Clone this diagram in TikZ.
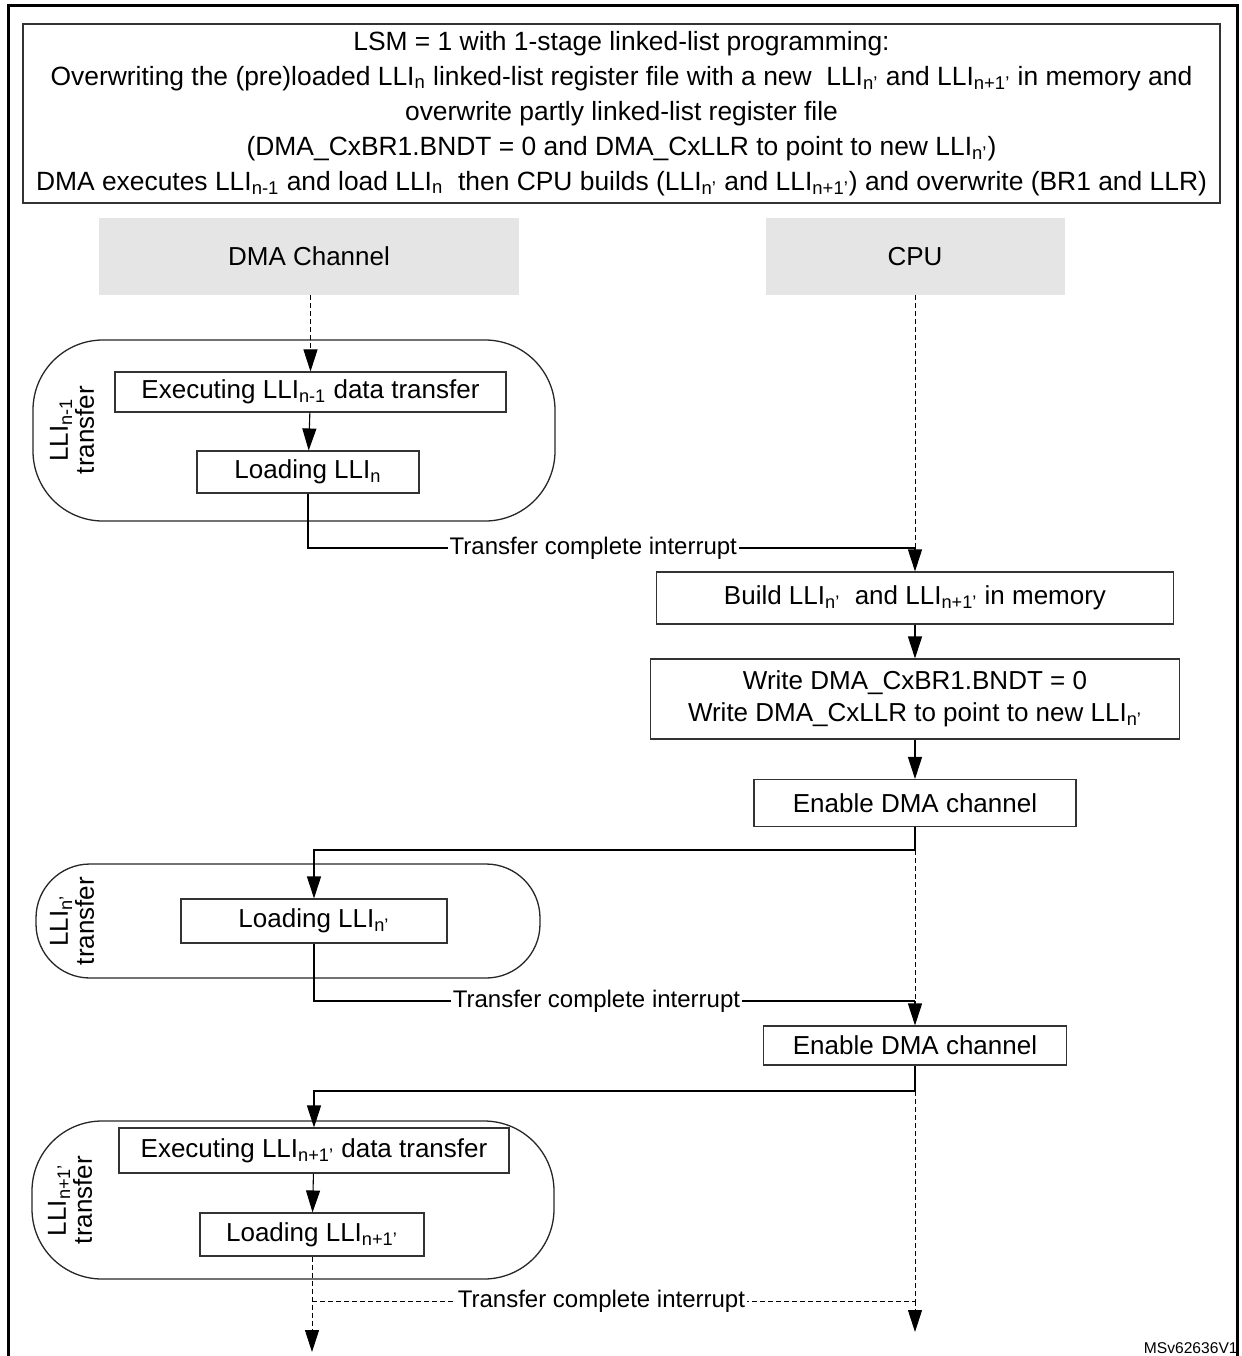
\documentclass[tikz,border=0pt]{standalone}
\usepackage{fontspec}
\setmainfont{Liberation Sans}
\usetikzlibrary{arrows.meta}
\newcommand{\lli}[1]{LLI\textsubscript{#1}}
\begin{document}
\begin{tikzpicture}[x=0.5pt,y=-0.5pt,
  box/.style={draw=black!80,line width=0.55pt,inner sep=0pt,align=center,font=\fontsize{13}{16}\selectfont},
  lane/.style={fill=black!10,inner sep=0pt,font=\fontsize{13}{16}\selectfont},
  group/.style={draw=black!85,line width=0.65pt,inner sep=0pt},
  tag/.style={rotate=90,align=center,inner sep=0pt,font=\fontsize{13}{13}\selectfont},
  lbl/.style={fill=white,inner sep=1pt,font=\fontsize{12}{14}\selectfont},
  flow/.style={line width=0.55pt,-{Triangle[length=11pt,width=7pt]}},
  conn/.style={line width=0.55pt},
  life/.style={line width=0.5pt,dash pattern=on 2.5pt off 1.5pt}]
\useasboundingbox (0,0) rectangle (1242,1356);
\draw[line width=1.5pt] (8.5,1356) -- (8.5,5) -- (1237,5) -- (1237,1356);
% header
\node[box,minimum width=598.5pt,minimum height=89.5pt,font=\fontsize{13.2}{17.5}\selectfont] (hdr) at (621.5,113.5)
  {LSM = 1 with 1-stage linked-list programming:\\
   Overwriting the (pre)loaded \lli{n} linked-list register file with a new~ \lli{n'} and \lli{n+1'} in memory and\\
   overwrite partly linked-list register file\\
   (DMA\_CxBR1.BNDT = 0 and DMA\_CxLLR to point to new \lli{n'})\\
   DMA executes \lli{n-1} and load \lli{n}~ then CPU builds (\lli{n'} and \lli{n+1'}) and overwrite (BR1 and LLR)};
\node[lane,minimum width=210pt,minimum height=38.5pt] (dmahead) at (309,256.5) {DMA Channel};
\node[lane,minimum width=149.5pt,minimum height=38.5pt] (cpuhead) at (915,256.5) {CPU};
% groups
\node[group,minimum width=261pt,minimum height=90.5pt,rounded corners=35pt] (grp1) at (294,430.5) {};
\node[group,minimum width=252pt,minimum height=57pt,rounded corners=27pt] (grp2) at (288,921) {};
\node[group,minimum width=261pt,minimum height=79pt,rounded corners=35pt] (grp3) at (293,1200) {};
\node[tag] (tag1) at (72,430) {\lli{n-1}\\transfer};
\node[tag] (tag2) at (72,921) {\lli{n'}\\transfer};
\node[tag] (tag3) at (70,1200) {\lli{n+1'}\\transfer};
% DMA side
\node[box,minimum width=195.5pt,minimum height=20pt] (exec1) at (310.5,392) {Executing \lli{n-1} data transfer};
\node[box,minimum width=111pt,minimum height=21pt] (load1) at (308,472) {Loading \lli{n}};
\node[box,minimum width=133pt,minimum height=22pt] (load2) at (314,921) {Loading \lli{n'}};
\node[box,minimum width=195pt,minimum height=22.5pt] (exec3) at (314,1150.5) {Executing \lli{n+1'} data transfer};
\node[box,minimum width=112pt,minimum height=21.5pt] (load3) at (312,1234.5) {Loading \lli{n+1'}};
% CPU side
\node[box,minimum width=258.5pt,minimum height=26pt] (build) at (915,598) {Build \lli{n'}~ and \lli{n+1'} in memory};
\node[box,minimum width=264.5pt,minimum height=40pt,font=\fontsize{13}{16}\selectfont] (write) at (915,699)
  {Write DMA\_CxBR1.BNDT = 0\\Write DMA\_CxLLR to point to new \lli{n'}};
\node[box,minimum width=161pt,minimum height=23.5pt] (en1) at (915,803) {Enable DMA channel};
\node[box,minimum width=151.5pt,minimum height=19.5pt] (en2) at (915,1045.5) {Enable DMA channel};
\coordinate (irq1) at (915,548);
\coordinate (fork1) at (915,850);
\coordinate (irq2) at (915,1001);
\coordinate (fork2) at (915,1091);
\coordinate (irq3) at (915,1301);
\coordinate (cpuend) at (915,1332);
\coordinate (dmaend) at (312,1352);
% lifelines
\draw[life,-{Triangle[length=11pt,width=7pt]}] (exec1.north |- dmahead.south) -- (exec1.north);
\draw[life] (cpuhead.south) -- (irq1);
\draw[life] (fork1) -- (irq2);
\draw[life] (fork2) -- (irq3);
% flow
\draw[flow] (exec1) -- (load1);
\draw[conn] (load1.south) |- (irq1) node[lbl,pos=0.735] {Transfer complete interrupt};
\draw[flow] (irq1) -- (build.north);
\draw[flow] (build) -- (write);
\draw[flow] (write) -- (en1);
\draw[conn] (en1.south) -- (fork1);
\draw[flow] (fork1) -| (load2.north);
\draw[conn] (load2.south) |- (irq2) node[lbl,pos=0.735] {Transfer complete interrupt};
\draw[flow] (irq2) -- (en2.north);
\draw[conn] (en2.south) -- (fork2);
\draw[flow] (fork2) -| (exec3.north);
\draw[flow] (exec3) -- (load3);
\draw[life,-{Triangle[length=11pt,width=7pt]}] (load3.south) -- (dmaend);
\draw[life] (load3.south |- irq3) -- (irq3) node[lbl,pos=0.48] {Transfer complete interrupt};
\draw[life,-{Triangle[length=11pt,width=7pt]}] (irq3) -- (cpuend);
\node[anchor=east,inner sep=0pt,font=\fontsize{7.8}{9}\selectfont] (ref) at (1238,1348) {MSv62636V1};
\end{tikzpicture}
\end{document}
